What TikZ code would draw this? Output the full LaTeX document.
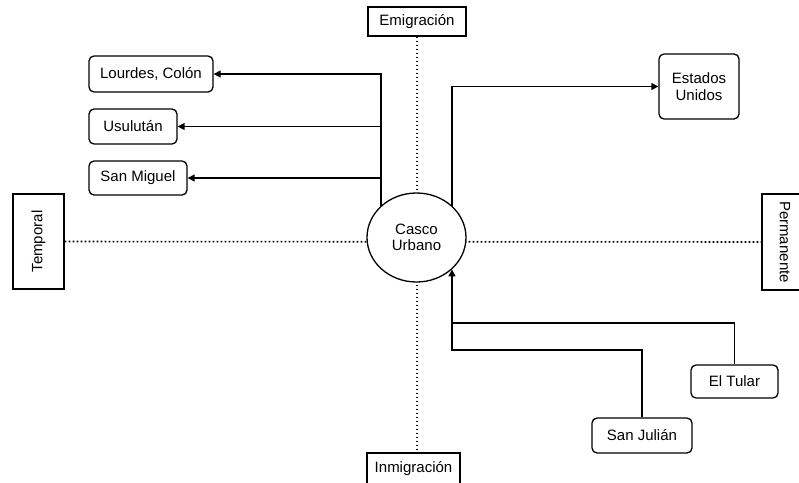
\documentclass[tikz,border=0pt]{standalone}
\usepackage{fontspec}
\setmainfont{Liberation Sans}
\usetikzlibrary{arrows.meta,shapes.geometric}
\begin{document}
\begin{tikzpicture}[x=1pt,y=-1pt,
  every node/.style={font=\fontsize{15}{16.5}\selectfont, line width=1.3pt, inner sep=0pt, align=center},
  place/.style={draw, rounded corners=5pt},
  axisbox/.style={draw},
  conn/.style={line width=1.4pt},
  arr/.style={conn, -{Triangle[length=7pt,width=7pt]}},
  dots/.style={line width=1.6pt, dash pattern=on 1.8pt off 2.2pt}]
\useasboundingbox (0,0) rectangle (799,482);
\clip (0,0) rectangle (799,482);
% axis boxes
\node[axisbox, minimum width=98pt, minimum height=29pt] (emig) at (417,21.5) {Emigración};
\node[axisbox, minimum width=93pt, minimum height=32pt] (inmig) at (413.5,469) {Inmigración};
\node[axisbox, rotate=90, minimum width=95pt, minimum height=51pt] (temp) at (38.5,241.5) {Temporal};
\node[axisbox, rotate=-90, minimum width=96pt, minimum height=46pt] (perm) at (785,242) {Permanente};
% dotted axes
\draw[dots] (temp) -- (perm);
\draw[dots] (emig.south) -- (emig.south |- inmig.north);
% centre
\node[draw, ellipse, fill=white, minimum width=99pt, minimum height=89pt] (ell) at (416.5,237.5) {Casco\\Urbano};
% places
\node[place, minimum width=124pt, minimum height=36pt] (L) at (151,74) {Lourdes, Colón};
\node[place, minimum width=88pt, minimum height=35pt] (U) at (133,126.5) {Usulután};
\node[place, minimum width=98pt, minimum height=34pt] (SM) at (138,178) {San Miguel};
\node[place, minimum width=80pt, minimum height=65pt] (EU) at (699,86.5) {Estados\\Unidos};
\node[place, minimum width=87pt, minimum height=33pt] (ET) at (734.5,381.5) {El Tular};
\node[place, minimum width=100pt, minimum height=35pt] (SJ) at (642,435.5) {San Julián};
% connectors
\draw[arr] (ell.138) |- (L.east);
\draw[arr] (ell.138) |- (U.east);
\draw[arr] (ell.138) |- (SM.east);
\draw[arr] (ell.42) |- (EU.west);
\coordinate (jt) at (ell.-42 |- 0,323);
\coordinate (jj) at (ell.-42 |- 0,350);
\draw[conn] (ET.north) |- (jt);
\draw[arr] (SJ.north) |- (jj) -- (ell.-42);
\end{tikzpicture}
\end{document}
